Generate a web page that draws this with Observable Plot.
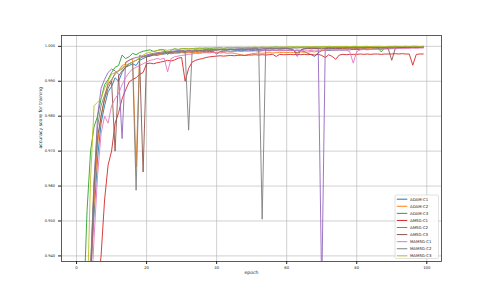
<!DOCTYPE html>
<html>
<head>
<meta charset="utf-8">
<script src="https://cdn.jsdelivr.net/npm/d3@7"></script>
<script src="https://cdn.jsdelivr.net/npm/@observablehq/plot@0.6"></script>
<style>
html,body{margin:0;padding:0;background:#fff;}
#chart{width:490px;height:294px;position:relative;}
</style>
</head>
<body>
<div id="chart"></div>
<script>
const seriesNames = ["ADAM-C1","ADAM-C2","ADAM-C3","AMSG-C1","AMSG-C2","AMSG-C3","MAMSG-C1","MAMSG-C2","MAMSG-C3"];
const seriesColors = ["#1f77b4","#ff7f0e","#2ca02c","#d62728","#9467bd","#8c564b","#e377c2","#7f7f7f","#bcbd22"];
const xTicks = [0,20,40,60,80,100];
const yTicks = [0.94,0.95,0.96,0.97,0.98,0.99,1.0];
const xLabel = "epoch";
const yLabel = "accuracy score for training";

const adamC1 = [0.760,0.850,0.895,0.920,0.934,0.952,0.968,0.978,0.983,0.987,0.9885,0.991,0.990,0.9925,0.994,0.9945,0.995,0.9945,0.996,0.9965,
0.9970,0.9972,0.9975,0.9974,0.9977,0.9978,0.9980,0.9979,0.9981,0.9982,0.9983,0.9982,0.9984,0.9983,0.9985,0.9984,0.9985,0.9986,0.9985,0.9986,
0.9978,0.9985,0.9986,0.9987,0.9986,0.9987,0.9988,0.9987,0.9988,0.9987,0.9988,0.9988,0.9987,0.9988,0.9989,0.9988,0.9989,0.9988,0.9989,0.9989,
0.9988,0.9989,0.9988,0.9989,0.9988,0.9985,0.9980,0.9976,0.9971,0.9982,0.9988,0.9989,0.9988,0.9989,0.9989,0.9990,0.9989,0.9990,0.9990,0.9991,
0.9991,0.9991,0.9992,0.9991,0.9992,0.9992,0.9993,0.9992,0.9993,0.9994,0.9994,0.9995,0.9995,0.9996,0.9996,0.9997,0.9997,0.9997,0.9998,0.9998];

const adamC2 = [0.740,0.840,0.885,0.915,0.933,0.955,0.972,0.980,0.985,0.9895,0.990,0.9925,0.993,0.9945,0.995,0.996,0.9965,0.9655,0.9975,0.997,
0.9974,0.9976,0.9977,0.9978,0.9977,0.9979,0.9980,0.9979,0.9981,0.9980,0.9982,0.9981,0.9982,0.9983,0.9982,0.9983,0.9983,0.9982,0.9983,0.9982,
0.9982,0.9981,0.9982,0.9980,0.9981,0.9980,0.9978,0.9975,0.9974,0.9976,0.9979,0.9980,0.9981,0.9980,0.9981,0.9982,0.9981,0.9982,0.9982,0.9983,
0.9982,0.9983,0.9982,0.9983,0.9984,0.9983,0.9984,0.9985,0.9984,0.9986,0.9987,0.9989,0.9991,0.9993,0.9993,0.9994,0.9993,0.9994,0.9994,0.9995,
0.9994,0.9995,0.9995,0.9994,0.9995,0.9996,0.9995,0.9996,0.9996,0.9995,0.9996,0.9996,0.9997,0.9996,0.9997,0.9996,0.9997,0.9997,0.9997,0.9998];

const adamC3 = [0.800,0.880,0.925,0.953,0.970,0.977,0.980,0.985,0.989,0.9905,0.9925,0.9940,0.9945,0.9975,0.9965,0.9970,0.9980,0.9976,0.9982,0.9986,
0.9988,0.9990,0.9985,0.9988,0.9991,0.9990,0.9976,0.9989,0.9993,0.9991,0.9993,0.9994,0.9992,0.9994,0.9993,0.9995,0.9994,0.9995,0.9993,0.9995,
0.9995,0.9996,0.9994,0.9996,0.9995,0.9996,0.9997,0.9995,0.9996,0.9997,0.9996,0.9997,0.9996,0.9997,0.9997,0.9996,0.9997,0.9998,0.9997,0.9997,
0.9997,0.9998,0.9997,0.9998,0.9997,0.9998,0.9998,0.9997,0.9998,0.9998,0.9998,0.9999,0.9998,0.9998,0.9999,0.9998,0.9999,0.9999,0.9998,0.9999,
0.9999,0.9999,0.9998,0.9999,0.9999,0.9998,0.9996,0.9984,0.9997,0.9999,0.9999,1.0000,0.9999,0.9999,1.0000,0.9999,1.0000,1.0000,0.9999,1.0000];

const amsgC1 = [0.700,0.800,0.855,0.885,0.905,0.918,0.930,0.940,0.956,0.966,0.970,0.978,0.981,0.985,0.9875,0.9898,0.9905,0.991,0.992,0.9925,
0.9950,0.9952,0.9950,0.9953,0.9955,0.9957,0.9960,0.9958,0.9961,0.9966,0.9968,0.9900,0.9937,0.9955,0.9960,0.9963,0.9965,0.9968,0.9970,0.9971,
0.9972,0.9973,0.9972,0.9973,0.9974,0.9973,0.9974,0.9975,0.9974,0.9975,0.9975,0.9976,0.9975,0.9976,0.9975,0.9976,0.9977,0.9971,0.9977,0.9976,
0.9976,0.9977,0.9976,0.9977,0.9976,0.9977,0.9976,0.9977,0.9975,0.9977,0.9974,0.9968,0.9976,0.9971,0.9963,0.9975,0.9977,0.9976,0.9977,0.9977,
0.9977,0.9978,0.9977,0.9978,0.9977,0.9978,0.9978,0.9977,0.9978,0.9978,0.9978,0.9979,0.9978,0.9979,0.9978,0.9978,0.9946,0.9977,0.9978,0.9978];

const amsgC2 = [0.750,0.845,0.890,0.918,0.932,0.960,0.980,0.988,0.9905,0.9925,0.9935,0.993,0.992,0.9736,0.9955,0.996,0.9965,0.9968,0.997,0.9972,
0.9975,0.9978,0.9980,0.9982,0.9983,0.9985,0.9986,0.9985,0.9987,0.9988,0.9987,0.9989,0.9988,0.9989,0.9990,0.9989,0.9990,0.9991,0.9990,0.9991,
0.9991,0.9992,0.9991,0.9992,0.9991,0.9992,0.9993,0.9992,0.9993,0.9992,0.9993,0.9993,0.9992,0.9993,0.9994,0.9993,0.9994,0.9993,0.9994,0.9994,
0.9994,0.9993,0.9990,0.9971,0.9988,0.9993,0.9994,0.9993,0.9994,0.9994,0.9300,0.9993,0.9994,0.9995,0.9994,0.9995,0.9995,0.9996,0.9995,0.9996,
0.9996,0.9995,0.9996,0.9996,0.9997,0.9996,0.9997,0.9996,0.9997,0.9997,0.9997,0.9998,0.9997,0.9998,0.9997,0.9998,0.9998,0.9998,0.9997,0.9998];

const amsgC3 = [0.740,0.845,0.890,0.920,0.936,0.960,0.974,0.980,0.985,0.988,0.990,0.9700,0.9915,0.993,0.994,0.995,0.9955,0.996,0.9965,0.9640,
0.9970,0.9973,0.9976,0.9978,0.9980,0.9981,0.9983,0.9982,0.9984,0.9985,0.9986,0.9985,0.9987,0.9986,0.9988,0.9987,0.9988,0.9989,0.9988,0.9989,
0.9989,0.9990,0.9989,0.9990,0.9991,0.9990,0.9991,0.9990,0.9991,0.9992,0.9991,0.9992,0.9991,0.9992,0.9992,0.9993,0.9992,0.9993,0.9992,0.9993,
0.9993,0.9992,0.9988,0.9980,0.9990,0.9993,0.9994,0.9993,0.9994,0.9994,0.9993,0.9994,0.9995,0.9994,0.9995,0.9994,0.9995,0.9995,0.9996,0.9995,
0.9995,0.9996,0.9995,0.9996,0.9996,0.9995,0.9996,0.9995,0.9995,0.9993,0.9960,0.9994,0.9997,0.9996,0.9997,0.9997,0.9996,0.9997,0.9997,0.9998];

const mamsgC1 = [0.720,0.830,0.880,0.910,0.925,0.945,0.963,0.975,0.980,0.978,0.983,0.985,0.9865,0.989,0.991,0.9925,0.9935,0.994,0.9945,0.995,
0.9955,0.9960,0.9962,0.9965,0.9963,0.9966,0.9927,0.9965,0.9970,0.9972,0.9974,0.9975,0.9977,0.9978,0.9980,0.9979,0.9981,0.9982,0.9981,0.9983,
0.9983,0.9984,0.9983,0.9985,0.9984,0.9985,0.9986,0.9985,0.9986,0.9987,0.9986,0.9987,0.9986,0.9987,0.9988,0.9987,0.9988,0.9988,0.9987,0.9988,
0.9988,0.9989,0.9988,0.9989,0.9988,0.9989,0.9989,0.9988,0.9989,0.9989,0.9990,0.9989,0.9990,0.9989,0.9990,0.9989,0.9990,0.9989,0.9985,0.9952,
0.9985,0.9990,0.9991,0.9990,0.9991,0.9992,0.9991,0.9992,0.9993,0.9992,0.9993,0.9993,0.9994,0.9993,0.9994,0.9994,0.9995,0.9994,0.9995,0.9995];

const mamsgC2 = [0.745,0.848,0.892,0.921,0.937,0.962,0.977,0.983,0.986,0.989,0.9905,0.992,0.993,0.9935,0.9945,0.995,0.9955,0.9588,0.9965,0.997,
0.9972,0.9975,0.9977,0.9979,0.9980,0.9982,0.9983,0.9984,0.9985,0.9986,0.9987,0.9986,0.9760,0.9987,0.9988,0.9989,0.9988,0.9989,0.9990,0.9989,
0.9990,0.9991,0.9990,0.9991,0.9992,0.9991,0.9992,0.9993,0.9992,0.9993,0.9993,0.9994,0.9993,0.9505,0.9994,0.9993,0.9994,0.9995,0.9994,0.9995,
0.9995,0.9994,0.9995,0.9995,0.9996,0.9995,0.9996,0.9995,0.9996,0.9996,0.9995,0.9996,0.9997,0.9996,0.9997,0.9996,0.9997,0.9997,0.9996,0.9997,
0.9997,0.9997,0.9996,0.9997,0.9998,0.9997,0.9998,0.9997,0.9998,0.9998,0.9997,0.9998,0.9998,0.9999,0.9998,0.9998,0.9999,0.9998,0.9999,0.9999];

const mamsgC3 = [0.780,0.870,0.905,0.925,0.962,0.983,0.984,0.985,0.988,0.990,0.992,0.9925,0.993,0.994,0.9945,0.995,0.9955,0.996,0.9968,0.9975,
0.9980,0.9983,0.9986,0.9988,0.9989,0.9990,0.9989,0.9991,0.9992,0.9991,0.9993,0.9993,0.9994,0.9993,0.9995,0.9994,0.9995,0.9995,0.9996,0.9995,
0.9996,0.9996,0.9995,0.9996,0.9997,0.9996,0.9997,0.9997,0.9996,0.9997,0.9997,0.9998,0.9997,0.9998,0.9997,0.9998,0.9998,0.9997,0.9998,0.9998,
0.9998,0.9998,0.9999,0.9998,0.9999,0.9998,0.9999,0.9999,0.9999,0.9998,0.9999,0.9999,1.0000,0.9999,0.9999,1.0000,0.9999,1.0000,0.9999,1.0000,
1.0000,0.9999,1.0000,1.0000,0.9999,1.0000,1.0000,1.0000,0.9999,1.0000,1.0000,1.0000,1.0000,1.0000,1.0000,1.0000,1.0000,1.0000,1.0000,1.0000];

const seriesValues = [adamC1, adamC2, adamC3, amsgC1, amsgC2, amsgC3, mamsgC1, mamsgC2, mamsgC3];

const rows = [];
seriesNames.forEach((name, i) => {
  seriesValues[i].forEach((v, epoch) => rows.push({series: name, epoch, value: v}));
});

const W = 490, H = 294;
const mL = 61, mR = 49, mT = 35, mB = 33;

const chart = Plot.plot({
  width: W, height: H,
  marginLeft: mL, marginRight: mR, marginTop: mT, marginBottom: mB,
  style: {fontFamily: "'DejaVu Sans', sans-serif", background: "#fff", color: "#222"},
  x: {domain: [-4.3, 104.2]},
  y: {domain: [0.9384, 1.0031]},
  color: {domain: seriesNames, range: seriesColors},
  marks: [
    Plot.gridX(xTicks, {stroke: "#b0b0b0", strokeOpacity: 0.6, strokeWidth: 1}),
    Plot.gridY(yTicks, {stroke: "#b0b0b0", strokeOpacity: 0.6, strokeWidth: 1}),
    Plot.line(rows, {x: "epoch", y: "value", z: "series", stroke: "series", strokeWidth: 0.9, clip: true}),
    Plot.frame({stroke: "#333", strokeWidth: 0.8}),
    Plot.axisX(xTicks, {tickSize: 3, tickPadding: 1.5, fontSize: 3.8, label: null, tickFormat: d3.format("d")}),
    Plot.axisY(yTicks, {tickSize: 3, tickPadding: 3.5, fontSize: 3.6, label: null, tickFormat: d3.format(".3f")}),
    Plot.text([xLabel], {frameAnchor: "bottom", dy: 12, text: d => d, fontSize: 4.6, fill: "#222"}),
    Plot.text([yLabel], {frameAnchor: "left", dx: -20.5, rotate: -90, text: d => d, fontSize: 4.6, fill: "#222"})
  ]
});
document.getElementById("chart").appendChild(chart);

// legend (inside the axes, lower right)
const svg = d3.select(chart);
const lx = 395, ly = 195, lw = 43.5, lh = 63.5, step = 7.08;
const lg = svg.append("g").attr("class", "legend").attr("text-anchor", "start");
lg.append("rect").attr("x", lx).attr("y", ly).attr("width", lw).attr("height", lh)
  .attr("rx", 1.2).attr("fill", "#fff").attr("fill-opacity", 0.85)
  .attr("stroke", "#cccccc").attr("stroke-width", 0.6);
seriesNames.forEach((name, i) => {
  const cy = ly + 4.2 + i * step;
  lg.append("line").attr("x1", lx + 1.8).attr("x2", lx + 12.3).attr("y1", cy).attr("y2", cy)
    .attr("stroke", seriesColors[i]).attr("stroke-width", 1);
  lg.append("text").attr("x", lx + 15).attr("y", cy).attr("dy", "0.35em")
    .attr("text-anchor", "start")
    .attr("font-size", 3.9).attr("fill", "#222").attr("font-family", "'DejaVu Sans', sans-serif")
    .text(name);
});
</script>
</body>
</html>
